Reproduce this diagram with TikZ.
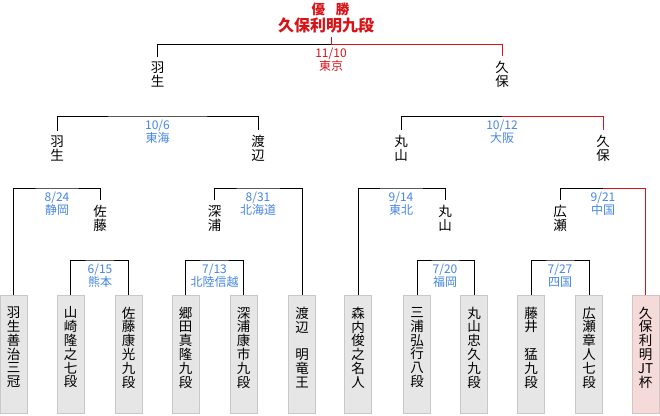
\documentclass[tikz,border=0pt]{standalone}
\usepackage{fontspec}
\setmainfont{Noto Sans CJK JP}
\definecolor{winred}{RGB}{214,20,24}
\definecolor{lblblue}{RGB}{70,134,224}
\definecolor{boxfill}{RGB}{230,230,230}
\definecolor{boxline}{RGB}{200,200,200}
\definecolor{winfill}{RGB}{245,218,218}
\definecolor{winedge}{RGB}{214,196,196}
\tikzset{
 lose/.style={draw=black, line width=1pt},
 win/.style={draw=winred, line width=1pt},
 player/.style={draw=boxline, fill=boxfill, line width=1pt, minimum width=27pt, minimum height=118pt, inner sep=0pt},
 champbox/.style={player, draw=winedge, fill=winfill},
 ptext/.style={align=center, font=\fontsize{13.5}{13.8}\selectfont, inner sep=0pt},
 pname/.style={align=center, font=\fontsize{13.5}{13.8}\selectfont, inner xsep=0pt, inner ysep=5pt},
 datelbl/.style={align=center, text=lblblue, font=\fontsize{12}{13}\selectfont, inner sep=0pt, yshift=-16pt},
}
\begin{document}
\begin{tikzpicture}[x=1pt,y=-1pt]
\useasboundingbox (0,0) rectangle (660,415);
% player boxes
\foreach \n/\x in {1/13.5,2/70.5,3/128.5,4/185.5,5/243.5,6/302,7/358,8/417,9/474,10/531,11/589}{
  \node[player] (b\n) at (\x,354.5) {};
}
\node[champbox] (b12) at (645.5,354.5) {};
% box texts
\node[ptext] (t1) at ([yshift=7pt]b1.center) {羽\\生\\善\\治\\三\\冠};
\node[ptext] (t2) at ([yshift=7pt]b2.center) {山\\崎\\隆\\之\\七\\段};
\node[ptext] (t3) at ([yshift=7pt]b3.center) {佐\\藤\\康\\光\\九\\段};
\node[ptext] (t4) at ([yshift=7pt]b4.center) {郷\\田\\真\\隆\\九\\段};
\node[ptext] (t5) at ([yshift=7pt]b5.center) {深\\浦\\康\\市\\九\\段};
\node[ptext] (t6) at ([yshift=7pt]b6.center) {渡\\辺\\　\\明\\竜\\王};
\node[ptext] (t7) at ([yshift=7pt]b7.center) {森\\内\\俊\\之\\名\\人};
\node[ptext] (t8) at ([yshift=7pt]b8.center) {三\\浦\\弘\\行\\八\\段};
\node[ptext] (t9) at ([yshift=7pt]b9.center) {丸\\山\\忠\\久\\九\\段};
\node[ptext] (t10) at ([yshift=7pt]b10.center) {藤\\井\\　\\猛\\九\\段};
\node[ptext] (t11) at ([yshift=7pt]b11.center) {広\\瀬\\章\\人\\七\\段};
\node[ptext] (t12) at ([yshift=7pt]b12.center) {久\\保\\利\\明\\JT\\杯};
% winner names
\node[pname] (sato) at (100,218.5) {佐\\藤};
\node[pname] (fukaura) at (214.5,218.5) {深\\浦};
\node[pname] (maruyamaA) at (445,218.5) {丸\\山};
\node[pname] (hirose) at (560,218.5) {広\\瀬};
\node[pname] (habuA) at (57,148.5) {羽\\生};
\node[pname] (watanabe) at (258,148.5) {渡\\辺};
\node[pname] (maruyamaB) at (401,148.5) {丸\\山};
\node[pname] (kuboA) at (603,148.5) {久\\保};
\node[pname] (habuB) at (157.5,74.5) {羽\\生};
\node[pname] (kuboB) at (502,74.5) {久\\保};
\node[text=winred, font=\bfseries\fontsize{13.5}{13.5}\selectfont, inner sep=0pt] (title) at (330.5,9) {優\hspace{11pt}勝};
\node[text=winred, font=\bfseries\fontsize{16}{16}\selectfont, inner xsep=0pt, inner ysep=4pt] (champ) at (326,25.5) {久保利明九段};
% bracket centres
\coordinate (m615) at (100,260);
\coordinate (m713) at (214.5,260);
\coordinate (m720) at (445,260);
\coordinate (m727) at (560,260);
\coordinate (m824) at (57,188);
\coordinate (m831) at (258,188);
\coordinate (m914) at (401,188);
\coordinate (m921) at (603,188);
\coordinate (m106) at (157.5,116);
\coordinate (m1012) at (502,116);
\coordinate (mfin) at (331,44);
% brackets
\draw[lose] (b2.north) |- (m615) -| (b3.north);
\draw[lose] (b4.north) |- (m713) -| (b5.north);
\draw[lose] (b8.north) |- (m720) -| (b9.north);
\draw[lose] (b10.north) |- (m727) -| (b11.north);
\draw[lose] (b1.north) |- (m824) -| (sato.north);
\draw[lose] (fukaura.north) |- (m831) -| (b6.north);
\draw[lose] (b7.north) |- (m914) -| (maruyamaA.north);
\draw[lose] (hirose.north) |- (m921);
\draw[win] (m921) -| (b12.north);
\draw[lose] (habuA.north) |- (m106) -| (watanabe.north);
\draw[lose] (maruyamaB.north) |- (m1012);
\draw[win] (m1012) -| (kuboA.north);
\draw[lose] (habuB.north) |- (mfin);
\draw[win] (mfin) -| (kuboB.north);
\draw[win] (mfin) -- (mfin |- champ.south);
% dates
\node[datelbl] (d615) at (m615) {6/15\\熊本};
\node[datelbl] (d713) at (m713) {7/13\\北陸信越};
\node[datelbl] (d720) at (m720) {7/20\\福岡};
\node[datelbl] (d727) at (m727) {7/27\\四国};
\node[datelbl] (d824) at (m824) {8/24\\静岡};
\node[datelbl] (d831) at (m831) {8/31\\北海道};
\node[datelbl] (d914) at (m914) {9/14\\東北};
\node[datelbl] (d921) at (m921) {9/21\\中国};
\node[datelbl] (d106) at (m106) {10/6\\東海};
\node[datelbl] (d1012) at (m1012) {10/12\\大阪};
\node[datelbl, text=winred] (dfin) at (mfin) {11/10\\東京};
\end{tikzpicture}
\end{document}
